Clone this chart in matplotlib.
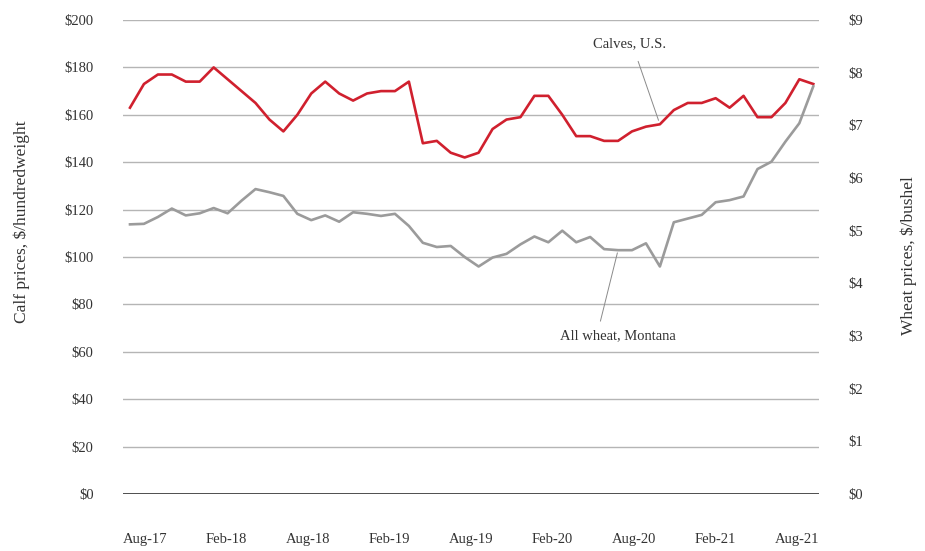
import matplotlib.pyplot as plt
import numpy as np

plt.rcParams['font.family'] = ['Liberation Serif', 'DejaVu Serif']

# Monthly, Aug-17 .. Sep-21
months = ['Aug-17', 'Feb-18', 'Aug-18', 'Feb-19', 'Aug-19', 'Feb-20', 'Aug-20', 'Feb-21', 'Aug-21']

# Calves, U.S. ($/hundredweight)
calves = [163, 173, 177, 177, 174, 174, 180, 175, 170, 165, 158, 153,
          160, 169, 174, 169, 166, 169, 170, 170, 174, 148, 149, 144,
          142, 144, 154, 158, 159, 168, 168, 160, 151, 151, 149, 149,
          153, 155, 156, 162, 165, 165, 167, 163, 168, 159, 159, 165,
          175, 173]

# All wheat, Montana ($/bushel)
wheat = [5.12, 5.13, 5.26, 5.42, 5.29, 5.33, 5.43, 5.33, 5.57, 5.79, 5.73, 5.66,
         5.32, 5.20, 5.29, 5.17, 5.35, 5.32, 5.28, 5.32, 5.09, 4.77, 4.69, 4.71,
         4.50, 4.32, 4.49, 4.56, 4.74, 4.89, 4.78, 5.00, 4.78, 4.88, 4.65, 4.63,
         4.63, 4.76, 4.32, 5.16, 5.23, 5.30, 5.54, 5.58, 5.65, 6.17, 6.31, 6.69,
         7.04, 7.74]

RED = '#d0202e'
GREY = '#9b9b9b'
TXT = '#333333'

fig = plt.figure(figsize=(9.25, 5.51), dpi=100)
ax = fig.add_axes([0.1327, 0.1034, 0.7530, 0.8603])
ax2 = ax.twinx()

x = np.arange(len(calves))
ax.plot(x, calves, color=RED, lw=1.9, zorder=3)
ax2.plot(x, wheat, color=GREY, lw=1.9, zorder=3)

# Achsen
ax.set_xlim(-0.52, len(calves) - 1 + 0.43)
ax.set_ylim(0, 200)
ax2.set_ylim(0, 9)
ax.set_yticks(np.arange(0, 201, 20))
ax.set_yticklabels([f'${v}' for v in range(0, 201, 20)])
ax2.set_yticks(np.arange(0, 10, 1))
ax2.set_yticklabels([f'${v}' for v in range(0, 10)])
ax.set_xticks(np.linspace(1.08, 47.85, len(months)))
ax.set_xticklabels(months)

for a in (ax, ax2):
    for s in a.spines.values():
        s.set_visible(False)
    a.tick_params(length=0, labelsize=10.5, colors=TXT)
ax.tick_params(axis='y', pad=21)
ax2.tick_params(axis='y', pad=21)
ax.tick_params(axis='x', pad=28)

# Gitterlinien
ax.grid(axis='y', color='#b5b5b5', lw=1.0)
ax.set_axisbelow(True)
ax.axhline(0, color='#222222', lw=1.1, zorder=2)

# Achsentitel
fig.text(0.024, 0.597, 'Calf prices, $/hundredweight', rotation=90, ha='center', va='center',
         fontsize=12.5, color=TXT)
fig.text(0.982, 0.537, 'Wheat prices, $/bushel', rotation=90, ha='center', va='center',
         fontsize=12.5, color=TXT)

# Beschriftungen mit Hinweislinien
ax.annotate('Calves, U.S.', xy=(38, calves[38]), xytext=(-22, 53), textcoords='offset points',
            ha='center', va='bottom', fontsize=10.5, color=TXT,
            arrowprops=dict(arrowstyle='-', color='#8a8a8a', lw=0.7, shrinkA=6, shrinkB=3,
                            relpos=(0.57, 0.0)))
ax2.annotate('All wheat, Montana', xy=(35, wheat[35]), xytext=(0, -57), textcoords='offset points',
             ha='center', va='top', fontsize=10.5, color=TXT,
             arrowprops=dict(arrowstyle='-', color='#8a8a8a', lw=0.7, shrinkA=4, shrinkB=2,
                             relpos=(0.33, 1.0)))

fig.savefig('out.png', dpi=100)
